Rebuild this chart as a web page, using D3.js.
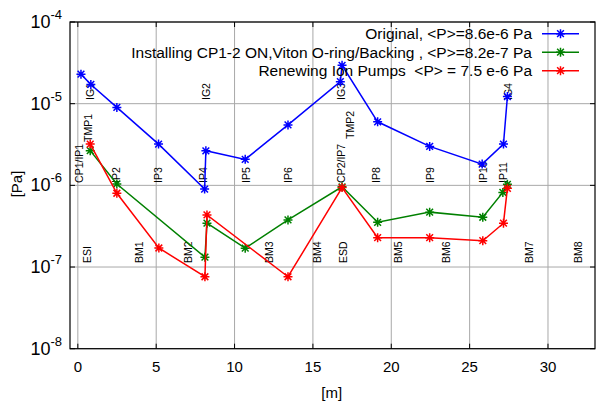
<html>
<head>
  <meta charset="utf-8">
  <script src="https://d3js.org/d3.v7.min.js"></script>
  <style>
    body { margin: 0; background: white; }
    text { font-family: "Liberation Sans", Arial, sans-serif; }
  </style>
  <script>
    // measurements along the beam line: [position m, pressure Pa]
    var original = [ [0.2, 2.3e-5], [0.83, 1.72e-5], [2.49, 9.0e-6], [5.15, 3.2e-6],
                     [8.09, 9.0e-7], [8.17, 2.65e-6], [10.68, 2.08e-6], [13.41, 5.5e-6],
                     [16.75, 1.86e-5], [16.86, 2.95e-5], [19.13, 6.0e-6], [22.45, 3.0e-6],
                     [25.8, 1.82e-6], [27.16, 3.2e-6], [27.41, 1.22e-5] ];
    var cpOn = [ [0.79, 2.66e-6], [2.49, 1.04e-6], [8.11, 1.32e-7], [8.24, 3.44e-7],
                 [10.68, 1.7e-7], [13.41, 3.77e-7], [16.86, 9.6e-7], [19.13, 3.53e-7],
                 [22.45, 4.7e-7], [25.84, 4.07e-7], [27.12, 8.2e-7], [27.41, 1.03e-6] ];
    var renewed = [ [0.79, 3.2e-6], [2.49, 8.0e-7], [5.17, 1.71e-7], [8.11, 7.6e-8],
                    [8.24, 4.34e-7], [13.41, 7.6e-8], [16.86, 9.4e-7], [19.13, 2.29e-7],
                    [22.45, 2.29e-7], [25.84, 2.1e-7], [27.16, 3.44e-7], [27.41, 9.2e-7] ];

    var seriesNames = [ "Original, <P>=8.6e-6 Pa",
                        "Installing CP1-2 ON,Viton O-ring/Backing , <P>=8.2e-7 Pa",
                        "Renewing Ion Pumps  <P> = 7.5 e-6 Pa" ];
    var seriesColors = [ "#0000ff", "#008000", "#ff0000" ];

    var xTicks = [0, 5, 10, 15, 20, 25, 30];
    var yTickExps = [-8, -7, -6, -5, -4];

    // device labels: [name, x m, pressure where the text starts]
    var deviceLabels = [ ["CP1/IP1", 0.07, 1.07e-6], ["TMP1", 0.62, 3.4e-6], ["IG1", 0.8, 1.11e-5],
                         ["IP2", 2.45, 1.07e-6], ["IP3", 5.1, 1.07e-6], ["IG2", 8.18, 1.11e-5],
                         ["IP4", 8.0, 1.07e-6], ["IP5", 10.7, 1.07e-6], ["IP6", 13.4, 1.07e-6],
                         ["IG3", 16.8, 1.11e-5], ["CP2/IP7", 16.8, 1.07e-6], ["TMP2", 17.35, 3.7e-6],
                         ["IP8", 19.0, 1.07e-6], ["IP9", 22.5, 1.07e-6], ["IP10", 25.84, 1.07e-6],
                         ["IP11", 27.1, 1.07e-6], ["IG4", 27.44, 1.11e-5],
                         ["ESI", 0.6, 1.12e-7], ["BM1", 3.9, 1.12e-7], ["BM2", 7.0, 1.12e-7],
                         ["BM3", 12.2, 1.12e-7], ["BM4", 15.25, 1.12e-7], ["ESD", 16.9, 1.12e-7],
                         ["BM5", 20.45, 1.12e-7], ["BM6", 23.5, 1.12e-7], ["BM7", 28.8, 1.12e-7],
                         ["BM8", 31.9, 1.12e-7] ];

    function star( g, cx, cy, r ) {
      var d = "M" + (cx - r) + "," + cy + "h" + 2 * r +
              "M" + cx + "," + (cy - r) + "v" + 2 * r +
              "M" + (cx - r * 0.75) + "," + (cy - r * 0.75) + "l" + 1.5 * r + "," + 1.5 * r +
              "M" + (cx - r * 0.75) + "," + (cy + r * 0.75) + "l" + 1.5 * r + "," + -1.5 * r;
      return d;
    }

    function makeChart() {
      var L = 70, T = 22, R = 595, B = 348.7;
      var svg = d3.select( "#chart" );

      var scX = d3.scaleLinear().domain( [-0.5, 33] ).range( [L, R] );
      var scY = d3.scaleLog().domain( [1e-8, 1e-4] ).range( [B, T] );

      // grid
      var grid = svg.append( "g" ).attr( "stroke", "#a8a8a8" ).attr( "stroke-width", 1 );
      grid.selectAll( "line.v" ).data( xTicks ).enter().append( "line" )
          .attr( "x1", d => scX(d) ).attr( "x2", d => scX(d) )
          .attr( "y1", T ).attr( "y2", B );
      grid.selectAll( "line.h" ).data( yTickExps ).enter().append( "line" )
          .attr( "x1", L ).attr( "x2", R )
          .attr( "y1", d => scY( Math.pow(10, d) ) ).attr( "y2", d => scY( Math.pow(10, d) ) );

      // ticks, mirrored on all four sides
      var tk = svg.append( "g" ).attr( "stroke", "black" ).attr( "stroke-width", 1 );
      xTicks.forEach( function(v) {
        tk.append( "line" ).attr( "x1", scX(v) ).attr( "x2", scX(v) ).attr( "y1", B ).attr( "y2", B - 5 );
        tk.append( "line" ).attr( "x1", scX(v) ).attr( "x2", scX(v) ).attr( "y1", T ).attr( "y2", T + 5 );
      } );
      yTickExps.forEach( function(e) {
        var y = scY( Math.pow(10, e) );
        tk.append( "line" ).attr( "x1", L ).attr( "x2", L + 5 ).attr( "y1", y ).attr( "y2", y );
        tk.append( "line" ).attr( "x1", R ).attr( "x2", R - 5 ).attr( "y1", y ).attr( "y2", y );
      } );

      // frame
      svg.append( "rect" ).attr( "x", L ).attr( "y", T )
          .attr( "width", R - L ).attr( "height", B - T )
          .attr( "fill", "none" ).attr( "stroke", "black" ).attr( "stroke-width", 1.2 );

      // tick labels
      svg.append( "g" ).selectAll( "text" ).data( xTicks ).enter().append( "text" )
          .attr( "x", d => scX(d) ).attr( "y", 372 )
          .attr( "text-anchor", "middle" ).attr( "font-size", 15 )
          .text( d => d );

      var yl = svg.append( "g" ).selectAll( "text" ).data( yTickExps ).enter().append( "text" )
          .attr( "x", 62 ).attr( "y", d => scY( Math.pow(10, d) ) + 6 )
          .attr( "text-anchor", "end" );
      yl.append( "tspan" ).attr( "font-size", 18 ).text( "10" );
      yl.append( "tspan" ).attr( "font-size", 13 ).attr( "dy", -9 ).text( d => d );

      svg.append( "text" ).attr( "x", scX(16.2) ).attr( "y", 398 )
          .attr( "text-anchor", "middle" ).attr( "font-size", 15 ).text( "[m]" );
      svg.append( "text" ).attr( "transform", "translate(22,184) rotate(-90)" )
          .attr( "text-anchor", "middle" ).attr( "font-size", 15 ).text( "[Pa]" );

      // device labels
      svg.append( "g" ).selectAll( "text" ).data( deviceLabels ).enter().append( "text" )
          .attr( "transform", d => "translate(" + (scX(d[1]) + 4) + "," + scY(d[2]) + ") rotate(-90)" )
          .attr( "font-size", 10.5 )
          .text( d => d[0] );

      // series
      var line = d3.line().x( d => scX(d[0]) ).y( d => scY(d[1]) );
      [original, cpOn, renewed].forEach( function(s, i) {
        var g = svg.append( "g" );
        g.append( "path" ).attr( "d", line(s) )
            .attr( "fill", "none" ).attr( "stroke", seriesColors[i] ).attr( "stroke-width", 1.5 );
        g.selectAll( "path.m" ).data( s ).enter().append( "path" )
            .attr( "d", d => star( g, scX(d[0]), scY(d[1]), 4.5 ) )
            .attr( "stroke", seriesColors[i] ).attr( "stroke-width", 1.5 );
      } );

      // legend
      var lg = svg.append( "g" );
      seriesNames.forEach( function(n, i) {
        var y = 33.7 + i * 18.5;
        lg.append( "text" ).attr( "x", 532 ).attr( "y", y + 5.5 )
            .attr( "text-anchor", "end" ).attr( "font-size", 15.5 )
            .style( "white-space", "pre" ).text( n );
        lg.append( "line" ).attr( "x1", 542 ).attr( "x2", 579 ).attr( "y1", y ).attr( "y2", y )
            .attr( "stroke", seriesColors[i] ).attr( "stroke-width", 1.5 );
        lg.append( "path" ).attr( "d", star( lg, 560.5, y, 4.5 ) )
            .attr( "stroke", seriesColors[i] ).attr( "stroke-width", 1.5 );
      } );
    }
  </script>
</head>

<body onload="makeChart()">
  <svg id="chart" width="597" height="402"></svg>
</body>
</html>
